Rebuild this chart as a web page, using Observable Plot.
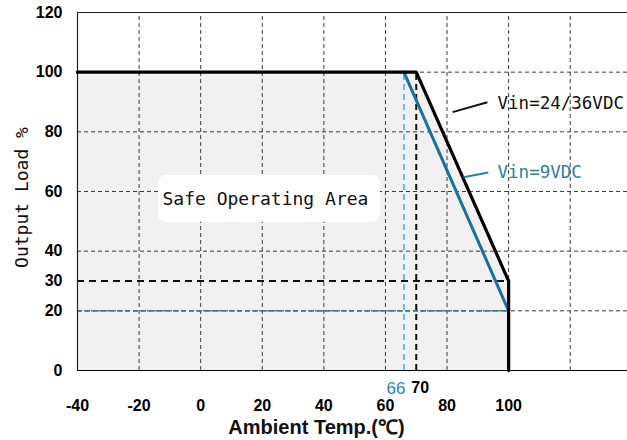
<!DOCTYPE html>
<html>
<head>
<meta charset="utf-8">
<script src="https://cdn.jsdelivr.net/npm/d3@7"></script>
<script src="https://cdn.jsdelivr.net/npm/@observablehq/plot@0.6"></script>
<style>
  html, body { margin: 0; padding: 0; background: #fff; }
  svg { display: block; }
</style>
</head>
<body>
<div id="chart"></div>
<script>
// ---- data ----
const xTicks = [-40, -20, 0, 20, 40, 60, 80, 100];
const yTicks = [0, 20, 30, 40, 60, 80, 100, 120];
const gridX = [-20, 0, 20, 40, 60, 80, 100, 120];
const gridY = [20, 40, 60, 80, 100];

// Vin = 24/36VDC derating curve
const temp24 = [-40, 70, 100, 100];
const load24 = [100, 100, 30, 0];
// Vin = 9VDC derating curve
const temp9 = [66, 100];
const load9 = [100, 20];

// marked reference values
const knee24 = 70, end24 = 30;
const knee9 = 66, end9 = 20;
const endTemp = 100;

const label24 = "Vin=24/36VDC";
const label9 = "Vin=9VDC";
const areaLabel = "Safe Operating Area";
const xTitle = "Ambient Temp.(\u2103)";
const yTitle = "Output Load %";

const xMin = -40, xMax = 138.6, yMin = 0, yMax = 120;

// ---- build ----
const curve24 = temp24.map((t, i) => ({t, l: load24[i]}));
const curve9 = temp9.map((t, i) => ({t, l: load9[i]}));
const areaPts = curve24.slice(0, 3);

const BLUE = "#1b6e9e";
const CYAN = "#4cb6de";
const TEAL = "#2f7f9b";
const GRID = "#3a3a3a";
const mono = "'DejaVu Sans Mono', 'Liberation Mono', monospace";
const sans = "'Liberation Sans', Arial, sans-serif";

const leader24 = [{x1: 81.8, y1: 86.6, x2: 93.1, y2: 89.9}];
const leader9 = [{x1: 85.3, y1: 64.8, x2: 93.4, y2: 66.4}];
const box = [{x1: -13.7, x2: 58.4, y1: 49.7, y2: 65.4}];

const chart = Plot.plot({
  width: 627,
  height: 440,
  marginTop: 12,
  marginBottom: 70,
  marginLeft: 77,
  marginRight: 0,
  x: {domain: [xMin, xMax]},
  y: {domain: [yMin, yMax]},
  style: {fontFamily: sans, background: "#fff", overflow: "visible"},
  marks: [
    Plot.areaY(areaPts, {x: "t", y: "l", fill: "#f1f1f1"}),
    Plot.ruleX(gridX, {y1: yMin, y2: yMax, stroke: GRID, strokeWidth: 1, strokeDasharray: "4,3"}),
    Plot.ruleY(gridY, {x1: xMin, x2: xMax, stroke: GRID, strokeWidth: 1, strokeDasharray: "4,3"}),
    // reference dashed lines
    Plot.ruleY([end9], {x1: xMin, x2: endTemp, stroke: TEAL, strokeWidth: 1.6, strokeDasharray: "5,3"}),
    Plot.ruleY([end24], {x1: xMin, x2: endTemp, stroke: "#111", strokeWidth: 2, strokeDasharray: "7,5"}),
    Plot.ruleX([knee9], {y1: 0, y2: 100, stroke: CYAN, strokeWidth: 1.6, strokeDasharray: "6,4"}),
    Plot.ruleX([knee24], {y1: 0, y2: 100, stroke: "#111", strokeWidth: 2, strokeDasharray: "6,4"}),
    // frame
    Plot.ruleY([yMin]),
    Plot.ruleY([yMax], {stroke: "#222", strokeWidth: 1.2}),
    Plot.ruleX([xMin], {stroke: "#222", strokeWidth: 1.2}),
    // curves
    Plot.line(curve9, {x: "t", y: "l", stroke: BLUE, strokeWidth: 3}),
    Plot.line(curve24, {x: "t", y: "l", stroke: "#000", strokeWidth: 3.2}),
    // leaders
    Plot.link(leader24, {x1: "x1", y1: "y1", x2: "x2", y2: "y2", stroke: "#111", strokeWidth: 2}),
    Plot.link(leader9, {x1: "x1", y1: "y1", x2: "x2", y2: "y2", stroke: TEAL, strokeWidth: 2}),
    // label box
    Plot.rect(box, {x1: "x1", x2: "x2", y1: "y1", y2: "y2", fill: "#fff", rx: 8}),
    Plot.text([areaLabel], {x: -12.4, y: 57.4, text: d => d, textAnchor: "start", fontFamily: mono, fontSize: 18, fill: "#111"}),
    Plot.text([label24], {x: 96.4, y: 89.6, text: d => d, textAnchor: "start", fontFamily: mono, fontSize: 17.5, fill: "#111"}),
    Plot.text([label9], {x: 96.4, y: 66.4, text: d => d, textAnchor: "start", fontFamily: mono, fontSize: 17.5, fill: TEAL}),
    // axes
    Plot.axisY({ticks: yTicks, tickSize: 0, tickPadding: 15, tickFormat: d => String(d), fontSize: 16, fontWeight: "bold", label: null}),
    Plot.axisX({ticks: xTicks, tickSize: 0, tickPadding: 29, tickFormat: d => String(d), fontSize: 16, fontWeight: "bold", label: null}),
    Plot.axisX({ticks: [knee9], tickSize: 0, tickPadding: 11, tickFormat: d => String(d), fontSize: 17, fill: "#2a88b2", dx: -8, label: null}),
    Plot.axisX({ticks: [knee24], tickSize: 0, tickPadding: 11, tickFormat: d => String(d), fontSize: 16, fontWeight: "bold", dx: 4, label: null}),
    Plot.text([xTitle], {frameAnchor: "bottom", lineAnchor: "middle", dx: -36, dy: 57, text: d => d, fontSize: 20, fontWeight: "bold", fill: "#111", fontFamily: sans}),
    Plot.text([yTitle], {frameAnchor: "left", textAnchor: "middle", rotate: -90, dx: -55, dy: 6, text: d => d, fontSize: 18, fontFamily: mono, fill: "#111"})
  ]
});
document.getElementById("chart").appendChild(chart);
</script>
</body>
</html>
